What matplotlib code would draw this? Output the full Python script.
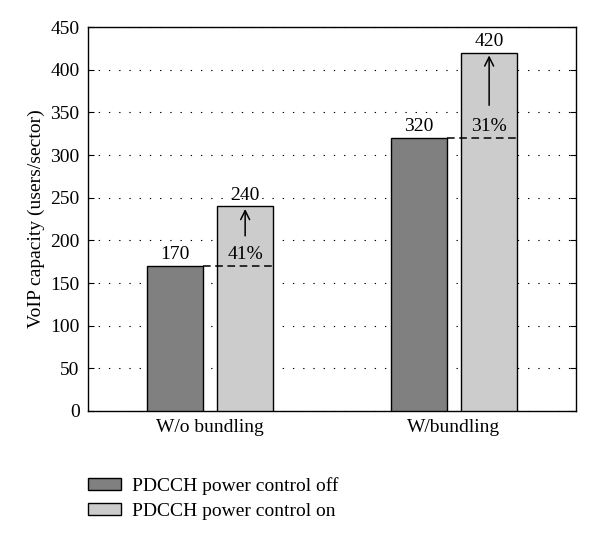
import matplotlib.pyplot as plt
import numpy as np

categories = ["W/o bundling", "W/bundling"]
power_off = [170, 320]
power_on = [240, 420]
gains = ["41%", "31%"]
series_names = ["PDCCH power control off", "PDCCH power control on"]

plt.rcParams["font.family"] = ["Liberation Serif", "DejaVu Serif"]

fig = plt.figure(figsize=(6, 5.41), dpi=100)
ax = fig.add_axes([0.1467, 0.2403, 0.8133, 0.7097])

x = np.arange(len(categories))
w = 0.23
off = 0.144
fs = 14
b1 = ax.bar(x - off, power_off, w, color="#808080", edgecolor="black", linewidth=1.0,
            label=series_names[0], zorder=3)
b2 = ax.bar(x + off, power_on, w, color="#cccccc", edgecolor="black", linewidth=1.0,
            label=series_names[1], zorder=3)

for i in range(len(categories)):
    ax.text(x[i] - off, power_off[i] + 3, str(power_off[i]), ha="center", va="bottom", fontsize=fs)
    ax.text(x[i] + off, power_on[i] + 3, str(power_on[i]), ha="center", va="bottom", fontsize=fs)
    # dashed reference line at the "off" level
    ax.plot([x[i] - off + w / 2, x[i] + off + w / 2], [power_off[i], power_off[i]],
            color="black", linestyle=(0, (5, 3)), linewidth=1.1, zorder=4)
    ax.text(x[i] + off, power_off[i] + 3, gains[i], ha="center", va="bottom", fontsize=fs, zorder=5)
    start = power_off[i] + 32 + (3 if i == 1 else 0)
    ax.annotate("", xy=(x[i] + off, power_on[i]), xytext=(x[i] + off, start),
                arrowprops=dict(arrowstyle="->", color="black", lw=1.1, mutation_scale=16), zorder=5)

ax.set_xlim(-0.5, 1.5)
ax.set_ylim(0, 450)
ax.set_yticks(np.arange(0, 451, 50))
ax.set_xticks(x)
ax.set_xticklabels(categories, fontsize=fs)
ax.tick_params(axis="y", labelsize=fs, direction="in", right=True, length=4, pad=6)
ax.tick_params(axis="x", length=0, pad=6)
ax.yaxis.grid(True, linestyle=(0, (1.2, 8)), color="black", linewidth=0.8, zorder=0)
ax.set_ylabel("VoIP capacity (users/sector)", fontsize=fs, labelpad=4)
for s in ax.spines.values():
    s.set_linewidth(1.0)

fig.legend(handles=[b1, b2], labels=series_names, loc="upper left",
           bbox_to_anchor=(0.117, 0.15), frameon=False, fontsize=fs,
           handlelength=1.7, handleheight=0.55, handletextpad=0.6, labelspacing=0.4)

fig.savefig("out.png", dpi=100)
